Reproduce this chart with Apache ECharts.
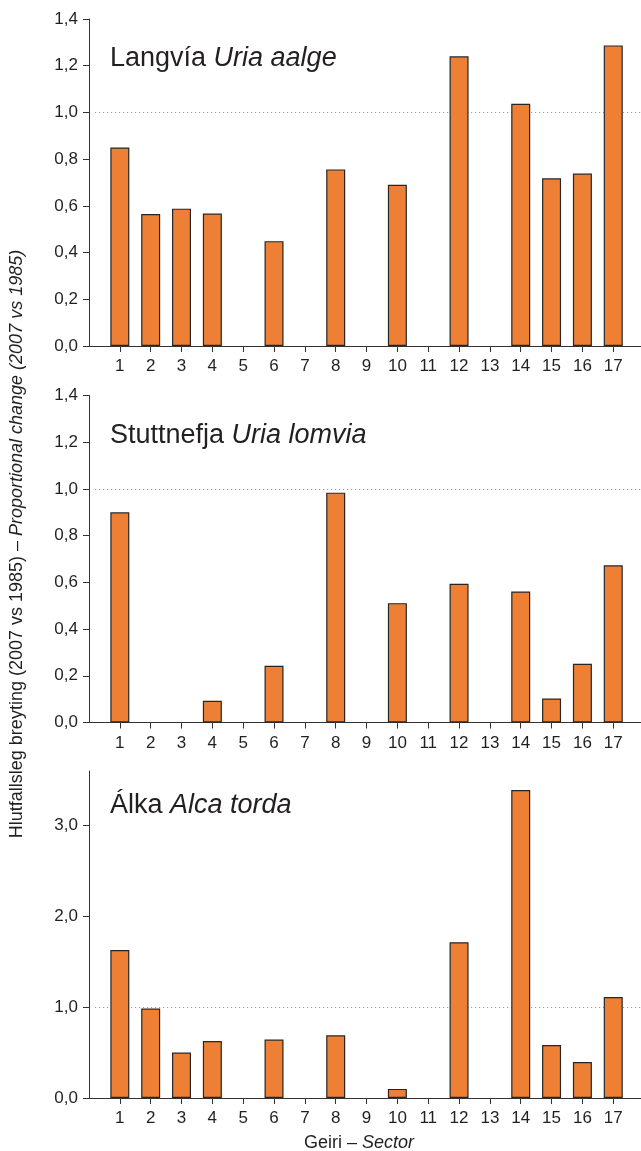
<!DOCTYPE html>
<html>
<head>
<meta charset="utf-8">
<script src="https://cdn.jsdelivr.net/npm/echarts@6/dist/echarts.min.js"></script>
<style>
  html, body { margin: 0; padding: 0; background: #fff; }
  #chart { width: 641px; height: 1151px; }
</style>
</head>
<body>
<div id="chart"></div>
<script>
const sectors = [1, 2, 3, 4, 5, 6, 7, 8, 9, 10, 11, 12, 13, 14, 15, 16, 17]

// proportional change 2007 vs 1985, per sector (0 = no bar)
const langvia = [0.85, 0.565, 0.588, 0.567, 0, 0.449, 0, 0.756, 0, 0.69, 0, 1.24, 0, 1.037, 0.718, 0.738, 1.287]
const stuttnefja = [0.90, 0, 0, 0.093, 0, 0.243, 0, 0.984, 0, 0.511, 0, 0.594, 0, 0.561, 0.103, 0.251, 0.673]
const alka = [1.63, 0.985, 0.50, 0.628, 0, 0.643, 0, 0.69, 0, 0.10, 0, 1.715, 0, 3.39, 0.584, 0.397, 1.112]

const titles = [['Langvía ', 'Uria aalge'], ['Stuttnefja ', 'Uria lomvia'], ['Álka ', 'Alca torda']]
const yTicks = [[0, 0.2, 0.4, 0.6, 0.8, 1.0, 1.2, 1.4], [0, 0.2, 0.4, 0.6, 0.8, 1.0, 1.2, 1.4], [0, 1, 2, 3]]
const yMax = [1.4, 1.4, 3.6]

const FONT = 'Liberation Sans'
const INK = '#231f20'
const BAR = '#ee8035'

const gridTops = [19, 395.5, 771]
const gridH = 327
const titleTops = [45, 422, 792]

const chart = echarts.init(document.getElementById('chart'))

const panels = [langvia, stuttnefja, alka]

const option = {
  animation: false,
  backgroundColor: '#fff',
  textStyle: { fontFamily: FONT, color: INK },
  title: titles.map((t, i) => ({
    text: '{a|' + t[0] + '}{b|' + t[1] + '}',
    left: 110,
    top: titleTops[i],
    padding: 0,
    textStyle: {
      fontWeight: 'normal',
      rich: {
        a: { fontFamily: FONT, fontSize: 27, color: INK, fontWeight: 'normal' },
        b: { fontFamily: FONT, fontSize: 27, color: INK, fontWeight: 'normal', fontStyle: 'italic' }
      }
    }
  })),
  grid: gridTops.map(top => ({ left: 89, right: 0, top: top, height: gridH })),
  xAxis: panels.map((_, i) => ({
    type: 'value',
    gridIndex: i,
    min: 0,
    max: 17.9,
    interval: 1,
    splitLine: { show: false },
    axisLine: { show: true, lineStyle: { color: '#333', width: 1 } },
    axisTick: { show: true, length: 6, customValues: sectors, lineStyle: { color: '#333' } },
    axisLabel: { customValues: sectors, fontSize: 17, color: INK, margin: 12, fontFamily: FONT }
  })),
  yAxis: panels.map((_, i) => ({
    type: 'value',
    gridIndex: i,
    min: 0,
    max: yMax[i],
    interval: i === 2 ? 1 : 0.2,
    splitLine: { show: false },
    axisLine: { show: true, lineStyle: { color: '#333', width: 1 } },
    axisTick: { show: true, length: 6, customValues: yTicks[i], lineStyle: { color: '#333' } },
    axisLabel: {
      customValues: yTicks[i],
      fontSize: 17, color: INK, margin: 11, fontFamily: FONT,
      formatter: v => v.toFixed(1).replace('.', ',')
    }
  })),
  series: panels.map((vals, i) => ({
    type: 'bar',
    xAxisIndex: i,
    yAxisIndex: i,
    z: 2,
    barWidth: 19,
    itemStyle: { color: BAR, borderColor: '#262626', borderWidth: 1.2 },
    data: sectors.map((s, k) => [s, vals[k] > 0 ? vals[k] : '-']),
    markLine: {
      silent: true,
      z: 1,
      symbol: 'none',
      label: { show: false },
      lineStyle: { color: '#8a8a8a', width: 1, type: [1, 3] },
      data: [[{ coord: [0.2, 1] }, { coord: [17.9, 1] }]]
    }
  })),
  graphic: [
    {
      type: 'text',
      x: 17, y: 544,
      rotation: Math.PI / 2,
      style: {
        text: '{a|Hlutfallsleg breyting (2007 vs 1985) – }{b|Proportional change (2007 vs 1985)}',
        align: 'center', verticalAlign: 'middle',
        rich: {
          a: { fontFamily: FONT, fontSize: 18, fill: INK },
          b: { fontFamily: FONT, fontSize: 18, fill: INK, fontStyle: 'italic' }
        }
      }
    },
    {
      type: 'text',
      x: 359, y: 1143,
      style: {
        text: '{a|Geiri – }{b|Sector}',
        align: 'center', verticalAlign: 'middle',
        rich: {
          a: { fontFamily: FONT, fontSize: 18, fill: INK },
          b: { fontFamily: FONT, fontSize: 18, fill: INK, fontStyle: 'italic' }
        }
      }
    }
  ]
}

chart.setOption(option)
window.addEventListener('resize', () => chart.resize())
</script>
</body>
</html>
